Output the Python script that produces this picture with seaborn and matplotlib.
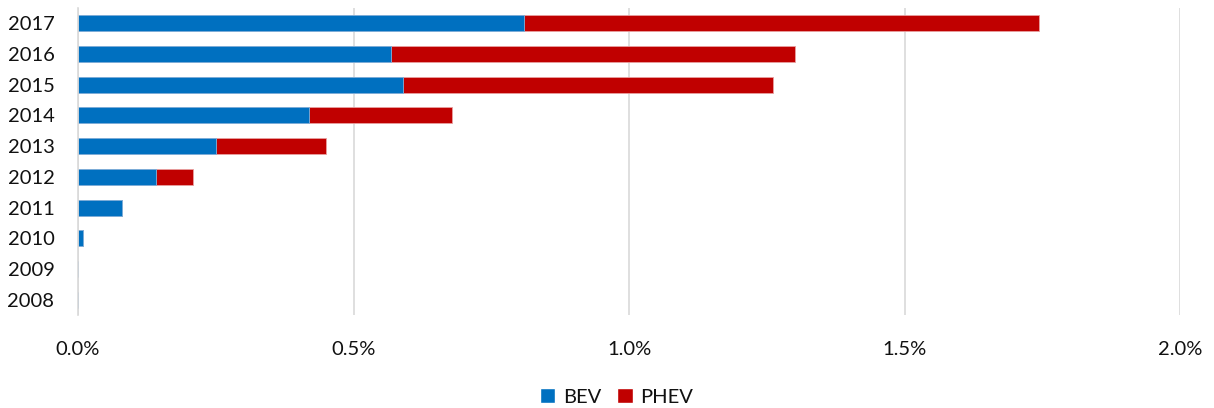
import numpy as np
import pandas as pd
import matplotlib
matplotlib.use("Agg")
import matplotlib.pyplot as plt
from matplotlib.patches import Patch
from matplotlib.ticker import FuncFormatter
import seaborn as sns

# Share of new registrations (%) by powertrain
years = ["2008", "2009", "2010", "2011", "2012", "2013", "2014", "2015", "2016", "2017"]
bev = [0.0, 0.0, 0.009, 0.080, 0.141, 0.250, 0.419, 0.590, 0.568, 0.809]
phev = [0.0, 0.0, 0.0, 0.0, 0.068, 0.200, 0.260, 0.672, 0.734, 0.936]

BLUE = "#0070C0"
RED = "#C00000"
GRID = "#D9D9D9"
TEXT = "#111111"

sns.set_theme(style="white")
plt.rcParams["font.family"] = ["Lato", "DejaVu Sans"]

df = pd.DataFrame({"year": years, "BEV": bev, "PHEV": phev})
df["total"] = df["BEV"] + df["PHEV"]
order = years[::-1]

fig = plt.figure(figsize=(12.14, 4.08), dpi=100)
ax = fig.add_axes([78 / 1214, 1 - 315 / 408, (1180 - 78) / 1214, (315 - 8) / 408])

# stacked bars: total (PHEV on top of BEV) first, BEV over it
sns.barplot(data=df, y="year", x="total", order=order, orient="h", color=RED,
            saturation=1, width=0.52, edgecolor="#E8A0A0", linewidth=0.6, ax=ax)
sns.barplot(data=df, y="year", x="BEV", order=order, orient="h", color=BLUE,
            saturation=1, width=0.52, edgecolor="#7FB5E0", linewidth=0.6, ax=ax)

ax.set_xlim(0, 2.0)
ax.set_ylim(9.5, -0.5)
ax.set_xticks([0, 0.5, 1.0, 1.5, 2.0])
ax.xaxis.set_major_formatter(FuncFormatter(lambda v, _: f"{v:.1f}%"))
ax.grid(axis="x", color=GRID, linewidth=1.2)
ax.grid(axis="y", visible=False)
ax.set_axisbelow(True)
ax.set_xlabel("")
ax.set_ylabel("")

for side in ["top", "right", "bottom"]:
    ax.spines[side].set_visible(False)
ax.spines["left"].set_color(GRID)
ax.spines["left"].set_linewidth(1.2)

ax.tick_params(axis="x", length=0, pad=19, labelsize=14.5, labelcolor=TEXT)
ax.tick_params(axis="y", which="major", length=0, pad=17, labelsize=14.5, labelcolor=TEXT)
ax.set_yticks(np.arange(-0.5, 10, 1), minor=True)
ax.tick_params(axis="y", which="minor", length=6, width=1.2, color=GRID, direction="out")

handles = [Patch(facecolor=BLUE, label="BEV"), Patch(facecolor=RED, label="PHEV")]
fig.legend(handles=handles, loc="center", bbox_to_anchor=(0.508, 0.027), ncol=2,
           frameon=False, fontsize=14.5, handlelength=0.75, handleheight=0.75,
           handletextpad=0.4, columnspacing=0.8, labelcolor=TEXT)

fig.savefig("out.png", dpi=100)
